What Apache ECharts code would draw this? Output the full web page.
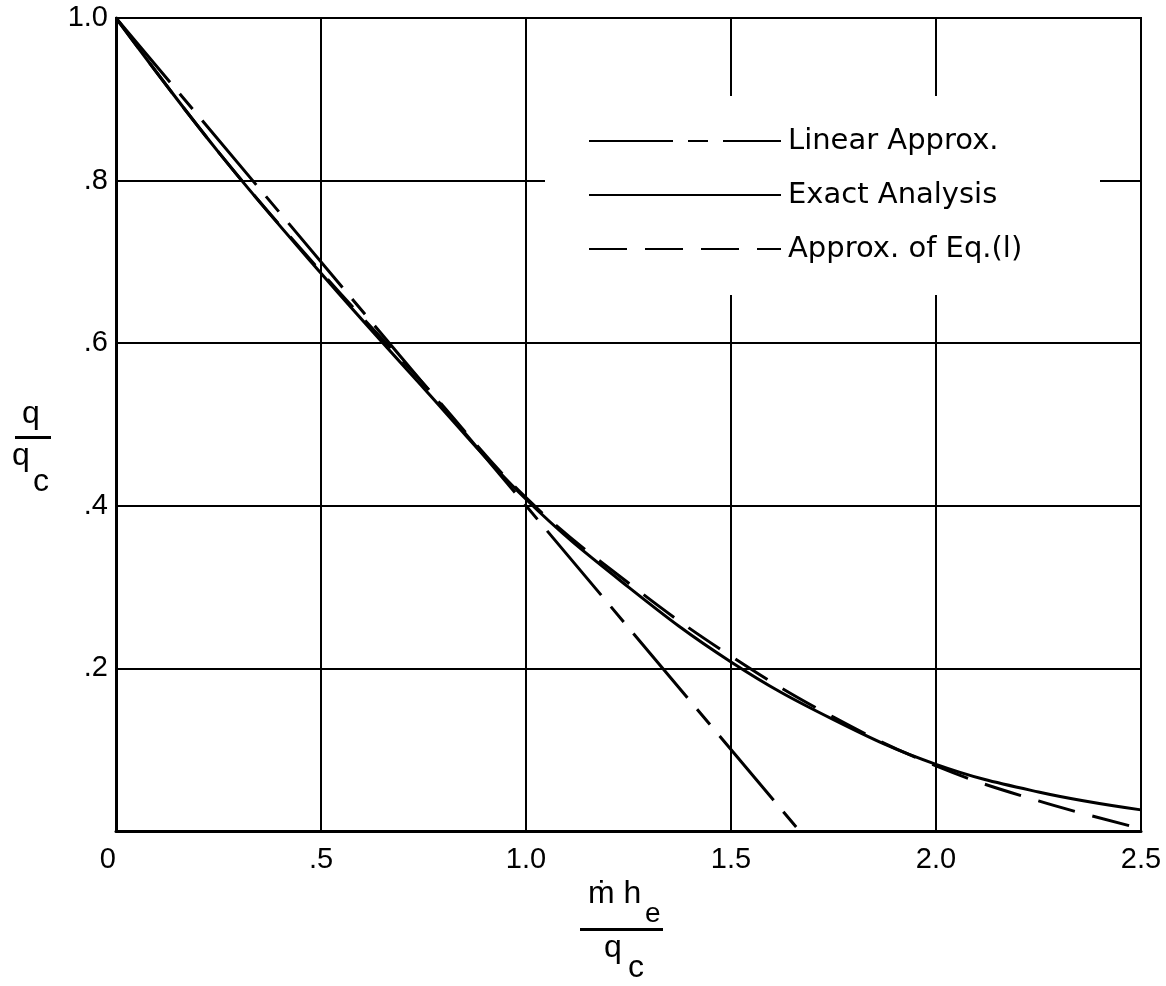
<!DOCTYPE html>
<html>
<head>
<meta charset="utf-8">
<script src="https://cdn.jsdelivr.net/npm/echarts@6/dist/echarts.min.js"></script>
<style>
  html, body { margin: 0; padding: 0; background: #fff; }
  #chart { width: 1166px; height: 986px; }
</style>
</head>
<body>
<div id="chart"></div>
<script>
// data
const xTicks = [0, 0.5, 1.0, 1.5, 2.0, 2.5];
const xTickLabels = ['0', '.5', '1.0', '1.5', '2.0', '2.5'];
const yTickLabels = ['', '.2', '.4', '.6', '.8', '1.0'];

const linearX = [0, 1.667];
const linearY = [1.0, 0.0];

const exactX = [0, 0.25, 0.5, 0.75, 1.0, 1.25, 1.5, 1.75, 2.0, 2.25, 2.5];
const exactY = [1.0, 0.835, 0.686, 0.545, 0.408, 0.3, 0.208, 0.137, 0.082, 0.048, 0.026];

const eq1X = [0, 0.25, 0.5, 0.75, 1.0, 1.25, 1.5, 1.75, 2.0, 2.25, 2.5];
const eq1Y = [1.0, 0.835, 0.688, 0.55, 0.41, 0.305, 0.215, 0.14, 0.08, 0.037, 0.003];

const pairs = (xs, ys) => xs.map((x, i) => [x, ys[i]]);

const chart = echarts.init(document.getElementById('chart'));
const font = 'Liberation Sans';
const keyFont = 'DejaVu Sans';

const option = {
  backgroundColor: '#fff',
  animation: false,
  grid: {
    left: 116, right: 25, top: 18, bottom: 155,
    show: true, borderColor: '#000', borderWidth: 2
  },
  legend: {
    orient: 'vertical',
    left: 583,
    top: 120,
    itemWidth: 192,
    itemHeight: 14,
    itemGap: 22,
    itemStyle: { opacity: 0 },
    textStyle: { fontFamily: keyFont, fontSize: 29, color: '#000', lineHeight: 32, padding: [0, 0, 0, 2] },
    data: ['Linear Approx.', 'Exact Analysis', 'Approx. of Eq.(l)']
  },
  xAxis: {
    type: 'value',
    min: 0, max: 2.5, interval: 0.5,
    axisLine: { show: true, lineStyle: { color: '#000', width: 3 } },
    axisTick: { show: false },
    splitLine: { show: true, lineStyle: { color: '#000', width: 2 } },
    axisLabel: {
      margin: 14,
      alignMinLabel: 'right',
      fontFamily: font, fontSize: 29, color: '#000',
      formatter: v => xTickLabels[xTicks.findIndex(t => Math.abs(t - v) < 1e-6)]
    }
  },
  yAxis: {
    type: 'value',
    min: 0, max: 1, interval: 0.2,
    axisLine: { show: true, lineStyle: { color: '#000', width: 3 } },
    axisTick: { show: false },
    splitLine: { show: true, lineStyle: { color: '#000', width: 2 } },
    axisLabel: {
      margin: 8,
      fontFamily: font, fontSize: 29, color: '#000',
      formatter: v => yTickLabels[Math.round(v / 0.2)]
    }
  },
  graphic: [
    // blank patch behind the key, as in the original
    { type: 'rect', z: 1, shape: { x: 545, y: 96, width: 555, height: 199 }, style: { fill: '#fff' } },
    // y axis title  q / q_c
    { type: 'text', z: 5, left: 22, top: 398, style: { text: 'q', font: '32px ' + font, fill: '#000' } },
    { type: 'rect', z: 5, shape: { x: 15, y: 436, width: 36, height: 3 }, style: { fill: '#000' } },
    { type: 'text', z: 5, left: 12, top: 440, style: { text: 'q', font: '32px ' + font, fill: '#000' } },
    { type: 'text', z: 5, left: 33, top: 466, style: { text: 'c', font: '32px ' + font, fill: '#000' } },
    // x axis title  m-dot h_e / q_c
    { type: 'text', z: 5, left: 588, top: 878, style: { text: 'ṁ h', font: '32px ' + font, fill: '#000' } },
    { type: 'text', z: 5, left: 645, top: 900, style: { text: 'e', font: '28px ' + font, fill: '#000' } },
    { type: 'rect', z: 5, shape: { x: 580, y: 928, width: 83, height: 3 }, style: { fill: '#000' } },
    { type: 'text', z: 5, left: 604, top: 932, style: { text: 'q', font: '32px ' + font, fill: '#000' } },
    { type: 'text', z: 5, left: 628, top: 952, style: { text: 'c', font: '32px ' + font, fill: '#000' } }
  ],
  series: [
    {
      name: 'Linear Approx.',
      type: 'line',
      symbol: 'none',
      data: pairs(linearX, linearY),
      lineStyle: { color: '#000', width: 3, type: [84, 15, 20, 15] },
      z: 3
    },
    {
      name: 'Exact Analysis',
      type: 'line',
      symbol: 'none',
      smooth: 0.4,
      data: pairs(exactX, exactY),
      lineStyle: { color: '#000', width: 3, type: 'solid' },
      z: 3
    },
    {
      name: 'Approx. of Eq.(l)',
      type: 'line',
      symbol: 'none',
      smooth: 0.4,
      data: pairs(eq1X, eq1Y),
      lineStyle: { color: '#000', width: 3, type: [38, 18] },
      z: 3
    }
  ]
};

chart.setOption(option);
</script>
</body>
</html>
